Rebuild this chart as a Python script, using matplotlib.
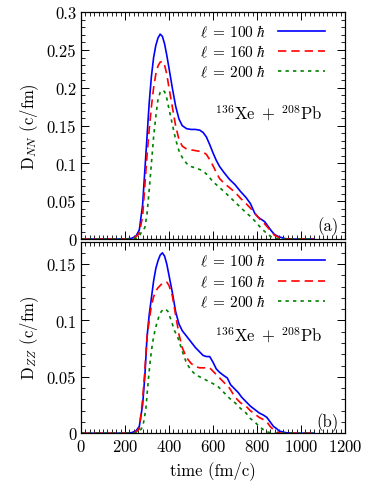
import matplotlib
matplotlib.use('Agg')
import matplotlib.pyplot as plt
from matplotlib.ticker import MultipleLocator, FormatStrFormatter

plt.rcParams['font.family'] = ['cmr10', 'DejaVu Serif']
plt.rcParams['mathtext.fontset'] = 'cm'
plt.rcParams['axes.formatter.use_mathtext'] = True
plt.rcParams['axes.unicode_minus'] = False

# ---- panel (a): D_NN ----
t_nn_100 = [0, 200, 230, 250, 265, 280, 290, 300, 310, 320, 330, 340, 350, 360, 370, 380,
            390, 400, 415, 430, 445, 460, 480, 500, 520, 540, 555, 570, 585, 600, 615, 630,
            650, 675, 700, 725, 750, 770, 790, 805, 820, 835, 850, 865, 880, 900, 930, 960, 1060]
d_nn_100 = [0, 0, 0.001, 0.004, 0.012, 0.045, 0.09, 0.135, 0.18, 0.215, 0.24, 0.256, 0.266,
            0.271, 0.268, 0.258, 0.243, 0.226, 0.2, 0.176, 0.159, 0.15, 0.146, 0.145, 0.145,
            0.144, 0.141, 0.135, 0.125, 0.114, 0.104, 0.096, 0.088, 0.079, 0.072, 0.063, 0.055,
            0.047, 0.034, 0.029, 0.026, 0.023, 0.017, 0.011, 0.006, 0.003, 0.0005, 0, 0]

t_nn_160 = [0, 230, 250, 265, 280, 290, 300, 310, 320, 330, 340, 350, 360, 370, 380, 390,
            400, 415, 430, 445, 460, 480, 500, 520, 540, 555, 570, 585, 600, 615, 630, 650,
            675, 700, 725, 750, 770, 790, 805, 820, 835, 850, 865, 880, 900, 930, 1060]
d_nn_160 = [0, 0, 0.003, 0.008, 0.03, 0.07, 0.11, 0.145, 0.175, 0.2, 0.218, 0.229, 0.234,
            0.235, 0.23, 0.218, 0.2, 0.175, 0.15, 0.132, 0.123, 0.119, 0.118, 0.117, 0.116,
            0.115, 0.112, 0.105, 0.097, 0.088, 0.08, 0.074, 0.068, 0.062, 0.054, 0.047, 0.041,
            0.034, 0.029, 0.024, 0.02, 0.015, 0.01, 0.005, 0.002, 0, 0]

t_nn_200 = [0, 230, 250, 265, 280, 290, 300, 310, 320, 330, 340, 350, 360, 370, 380, 390,
            400, 415, 430, 445, 460, 480, 500, 520, 540, 555, 570, 585, 600, 615, 630, 650,
            675, 700, 725, 750, 770, 790, 805, 820, 835, 850, 865, 880, 900, 1060]
d_nn_200 = [0, 0, 0.001, 0.004, 0.012, 0.015, 0.033, 0.065, 0.1, 0.135, 0.162, 0.185, 0.194,
            0.197, 0.195, 0.186, 0.172, 0.152, 0.132, 0.117, 0.108, 0.1, 0.096, 0.094, 0.092,
            0.09, 0.086, 0.081, 0.076, 0.072, 0.068, 0.063, 0.056, 0.049, 0.042, 0.035, 0.03,
            0.024, 0.019, 0.014, 0.01, 0.006, 0.003, 0.001, 0, 0]

# ---- panel (b): D_ZZ ----
t_zz_100 = [0, 200, 230, 250, 265, 280, 290, 300, 310, 320, 330, 340, 350, 360, 370, 380,
            390, 400, 415, 430, 445, 460, 480, 500, 520, 540, 555, 570, 585, 600, 615, 630,
            650, 665, 680, 700, 715, 730, 750, 770, 790, 810, 830, 845, 860, 875, 890, 900,
            930, 960, 1060]
d_zz_100 = [0, 0, 0.0005, 0.002, 0.006, 0.025, 0.05, 0.085, 0.105, 0.12, 0.135, 0.146, 0.153,
            0.158, 0.16, 0.157, 0.15, 0.14, 0.125, 0.108, 0.097, 0.091, 0.086, 0.081, 0.076,
            0.072, 0.069, 0.068, 0.068, 0.063, 0.057, 0.054, 0.051, 0.049, 0.043, 0.039, 0.036,
            0.032, 0.028, 0.024, 0.021, 0.018, 0.016, 0.014, 0.01, 0.006, 0.004, 0.002,
            0.0005, 0, 0]

t_zz_160 = [0, 230, 250, 265, 280, 290, 300, 310, 320, 330, 340, 350, 360, 370, 380, 390,
            400, 415, 430, 445, 460, 480, 500, 520, 540, 555, 570, 585, 600, 615, 630, 650,
            675, 700, 725, 750, 770, 790, 810, 830, 845, 860, 875, 890, 910, 1060]
d_zz_160 = [0, 0, 0.001, 0.004, 0.03, 0.055, 0.085, 0.1, 0.113, 0.121, 0.126, 0.129, 0.131,
            0.133, 0.134, 0.134, 0.131, 0.122, 0.105, 0.088, 0.076, 0.067, 0.062, 0.059, 0.058,
            0.058, 0.058, 0.058, 0.055, 0.052, 0.049, 0.045, 0.04, 0.032, 0.027, 0.024, 0.02,
            0.017, 0.014, 0.012, 0.01, 0.006, 0.003, 0.001, 0, 0]

t_zz_200 = [0, 240, 260, 275, 285, 295, 305, 315, 325, 335, 345, 355, 365, 375, 385, 395,
            410, 425, 440, 460, 480, 500, 520, 540, 560, 580, 600, 625, 650, 675, 700, 725,
            750, 770, 790, 810, 830, 850, 870, 1060]
d_zz_200 = [0, 0, 0.001, 0.004, 0.01, 0.022, 0.045, 0.065, 0.08, 0.09, 0.098, 0.104, 0.108,
            0.11, 0.11, 0.108, 0.1, 0.091, 0.085, 0.073, 0.062, 0.056, 0.052, 0.05, 0.048,
            0.046, 0.044, 0.041, 0.036, 0.031, 0.027, 0.022, 0.018, 0.013, 0.01, 0.006, 0.003,
            0.001, 0, 0]

labels = [r'$\ell\;=\,100\;\hbar$', r'$\ell\;=\,160\;\hbar$', r'$\ell\;=\,200\;\hbar$']
colors = ['#0000ff', '#ff0000', '#008000']
styles = ['-', (0, (5, 3)), (0, (2, 2.5))]

fig = plt.figure(figsize=(3.75, 4.89), dpi=100)
ax1 = fig.add_axes([0.216, 0.509, 0.704, 0.464])
ax2 = fig.add_axes([0.216, 0.112, 0.704, 0.392])

panels = [
    (ax1, [(t_nn_100, d_nn_100), (t_nn_160, d_nn_160), (t_nn_200, d_nn_200)],
     r'$\mathrm{D}_{NN}$ (c/fm)', 0.3, '(a)', 0.56),
    (ax2, [(t_zz_100, d_zz_100), (t_zz_160, d_zz_160), (t_zz_200, d_zz_200)],
     r'$\mathrm{D}_{ZZ}$ (c/fm)', 0.17, '(b)', 0.515),
]

for ax, series, ylab, ymax, tag, ytxt in panels:
    for (t, d), lab, c, ls in zip(series, labels, colors, styles):
        ax.plot(t, d, color=c, linestyle=ls, linewidth=1.2, label=lab)
    ax.set_xlim(0, 1200)
    ax.set_ylim(0, ymax)
    ax.xaxis.set_major_locator(MultipleLocator(200))
    ax.xaxis.set_minor_locator(MultipleLocator(20))
    ax.yaxis.set_major_locator(MultipleLocator(0.05))
    ax.yaxis.set_minor_locator(MultipleLocator(0.01))
    ax.yaxis.set_major_formatter(FormatStrFormatter('%g'))
    ax.tick_params(which='both', direction='in', top=True, right=True, labelsize=12)
    ax.tick_params(which='major', length=6, width=0.7)
    ax.tick_params(which='minor', length=3, width=0.6)
    for sp in ax.spines.values():
        sp.set_linewidth(0.9)
    ax.set_ylabel(ylab, fontsize=12, labelpad=4)
    ax.legend(loc='upper right', bbox_to_anchor=(0.966, 1.0), frameon=False,
              markerfirst=False, fontsize=11, handlelength=3.1, handletextpad=0.8,
              labelspacing=0.25, borderaxespad=0.3)
    ax.text(0.915, ytxt, r'$^{136}\mathrm{Xe}\;+\;{}^{208}\mathrm{Pb}$',
            transform=ax.transAxes, ha='right', va='center', fontsize=12)
    ax.text(0.975, 0.06, tag, transform=ax.transAxes, ha='right', va='center', fontsize=12)

ax1.tick_params(labelbottom=False)
ax2.set_xlabel('time (fm/c)', fontsize=12)
fig.align_ylabels([ax1, ax2])

fig.savefig('out.png', dpi=100)
